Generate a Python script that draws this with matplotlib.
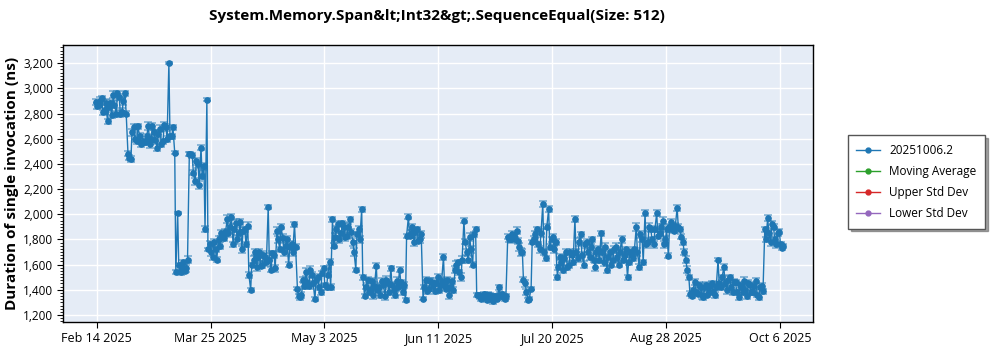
import matplotlib
matplotlib.use("Agg")
import matplotlib.pyplot as plt
from matplotlib.ticker import FuncFormatter, MultipleLocator, AutoMinorLocator
from matplotlib.lines import Line2D
import pandas as pd

plt.rcParams['font.family'] = ['Open Sans', 'DejaVu Sans']

title = "System.Memory.Span&lt;Int32&gt;.SequenceEqual(Size: 512)"
ylabel = "Duration of single invocation (ns)"
series_name = "20251006.2"
legend_labels = [series_name, "Moving Average", "Upper Std Dev", "Lower Std Dev"]
legend_colors = ["#1f77b4", "#2ca02c", "#d62728", "#9467bd"]

first_day = "2025-02-13 18:00"
second_run_offset = "9h"

# mean duration of the first run of each day (ns)
first_run = [
    2890, 2870, 2920, 2830, 2740, 2880, 2950, 2800, 2930, 2810, 2960,
    2480, 2440, 2690, 2580, 2620, 2570,
    2575, 2700, 2600, 2650, 2530, 2680, 2580, 2690, 3200, 2620,
    2490, 2010, 1540, 1620, 1570,
    2480, 2470, 2260, 2400, 2530, 2380, 2910,
    1760, 1660, 1720, 1800, 1850, 1810,
    1960, 1900, 1760, 1930, 1850, 1720, 1880, 1910,
    1400, 1640, 1580, 1700, 1600, 1660,
    2060, 1560, 1680, 1870, 1720, 1810,
    1750, 1600, 1760, 1920, 1410,
    1340, 1480, 1540, 1430, 1520, 1325, 1500, 1380, 1570,
    1420, 1620, 1960, 1820, 1920, 1850, 1900,
    1830, 1960, 1780, 1560, 1880, 2040,
    1350, 1480, 1400, 1360, 1590, 1420, 1470, 1350, 1450, 1570, 1400, 1470, 1560, 1380, 1320,
    1980, 1850, 1780, 1880, 1800,
    1330, 1480, 1410, 1460, 1390, 1500, 1440, 1660, 1410, 1360, 1470,
    1560, 1620, 1500, 1950, 1700, 1820, 1600, 1880, 1360,
    1330, 1370, 1320, 1360, 1310, 1350, 1420, 1370, 1330,
    1820, 1800, 1830, 1870, 1740, 1700, 1450, 1320,
    1410, 1800, 1880, 1720, 2080, 1650, 2040, 1800, 1720,
    1500, 1660, 1560, 1700, 1600, 1680, 1960, 1650, 1840, 1600, 1780,
    1660, 1800, 1580, 1720, 1850, 1620, 1560, 1700, 1640, 1740, 1600, 1800, 1680, 1500,
    1700, 1650, 1900, 1580, 1800, 2010, 1780, 1880,
    1760, 2010, 1850, 1950, 1800, 1670, 1940, 1870, 2050,
    1880, 1780, 1640, 1500, 1350, 1460, 1370, 1420, 1340, 1440, 1380,
    1450, 1360, 1640, 1420, 1580, 1400, 1500, 1380,
    1460, 1340, 1420, 1470, 1350, 1440, 1380, 1470, 1340, 1430,
    1880, 1970, 1780, 1900, 1760, 1860, 1730,
]

# mean duration of the second run of each day (ns)
second_run = [
    2860, 2900, 2810, 2880, 2850, 2790, 2870, 2960, 2800, 2900, 2800,
    2450, 2650, 2600, 2700, 2560, 2575,
    2620, 2560, 2700, 2590, 2640, 2560, 2710, 2600, 2620, 2690,
    1540, 1600, 1580, 1550, 1640,
    2480, 2330, 2420, 2230, 2300, 1880, 1720,
    1700, 1780, 1640, 1750, 1820, 1860,
    1850, 1980, 1880, 1800, 1940, 1870, 1760, 1520,
    1600, 1700, 1660, 1590, 1680, 1620,
    1640, 1690, 1570, 1800, 1900, 1700,
    1800, 1740, 1700, 1740, 1350,
    1360, 1430, 1460, 1560, 1450, 1480, 1420, 1530, 1440,
    1520, 1420, 1750, 1880, 1800, 1930, 1820,
    1900, 1860, 1700, 1840, 1800, 1500,
    1420, 1380, 1470, 1430, 1400, 1360, 1440, 1480, 1380, 1440, 1360, 1420, 1460, 1440, 1830,
    1830, 1900, 1860, 1790, 1840,
    1420, 1390, 1470, 1440, 1450, 1400, 1470, 1430, 1480, 1420, 1400,
    1600, 1540, 1640, 1780, 1640, 1720, 1840, 1360, 1340,
    1350, 1340, 1360, 1330, 1350, 1330, 1360, 1340, 1350,
    1800, 1840, 1800, 1790, 1700, 1480, 1380, 1330,
    1780, 1840, 1760, 1850, 1700, 1900, 1740, 1820, 1780,
    1580, 1620, 1650, 1580, 1700, 1620, 1700, 1780, 1680, 1760, 1700,
    1740, 1640, 1700, 1640, 1700, 1740, 1660, 1600, 1720, 1660, 1700, 1640, 1720, 1620,
    1680, 1720, 1700, 1840, 1620, 1760, 1900, 1800,
    1880, 1830, 1900, 1760, 1880, 1900, 1880, 1910, 1900,
    1820, 1700, 1560, 1370, 1400, 1380, 1440, 1360, 1420, 1360, 1430,
    1380, 1420, 1450, 1500, 1450, 1480, 1420, 1460,
    1380, 1440, 1380, 1400, 1450, 1380, 1430, 1360, 1420, 1390,
    1800, 1850, 1920, 1800, 1850, 1760, 1750,
]

# standard deviation of the runs of each day (ns)
std_devs = [
    25, 30, 20, 35, 20, 25, 30, 20, 25, 30, 20,
    20, 25, 30, 20, 25, 20,
    20, 30, 25, 20, 30, 25, 20, 25, 10, 20,
    15, 10, 25, 20, 30,
    15, 20, 25, 30, 20, 25, 10,
    30, 25, 20, 30, 25, 20,
    30, 25, 20, 35, 25, 30, 20, 25,
    15, 25, 30, 20, 25, 30,
    15, 20, 30, 25, 20, 30,
    25, 20, 30, 20, 15,
    25, 20, 30, 25, 20, 15, 25, 20, 15,
    20, 25, 20, 30, 25, 20, 30,
    25, 20, 30, 15, 25, 20,
    15, 25, 20, 30, 20, 25, 20, 30, 25, 20, 25, 30, 20, 25, 15,
    20, 25, 30, 20, 25,
    15, 25, 20, 30, 20, 25, 20, 25, 20, 30, 25,
    25, 20, 30, 20, 25, 30, 20, 15, 15,
    20, 15, 20, 15, 20, 15, 20, 15, 20,
    20, 25, 20, 25, 30, 20, 25, 15,
    15, 25, 20, 30, 25, 20, 25, 20, 25,
    20, 25, 30, 20, 25, 20, 25, 30, 20, 25, 20,
    25, 20, 30, 25, 20, 30, 25, 20, 25, 30, 20, 25, 20, 20,
    25, 20, 30, 25, 20, 25, 30, 20,
    25, 25, 20, 30, 25, 20, 25, 20, 25,
    20, 25, 30, 20, 15, 25, 20, 30, 25, 20, 25,
    20, 25, 15, 20, 25, 30, 20, 25,
    20, 25, 20, 30, 25, 20, 25, 20, 25, 20,
    20, 25, 30, 20, 25, 20, 15,
]

days = pd.date_range(first_day, periods=len(first_run), freq="D")
runs = pd.concat([
    pd.DataFrame({"time": days, "mean": first_run, "std": std_devs}),
    pd.DataFrame({"time": days + pd.Timedelta(second_run_offset),
                  "mean": second_run, "std": std_devs}),
]).sort_values("time")

fig = plt.figure(figsize=(10, 3.5), dpi=100)
ax = fig.add_axes([0.063, 0.08, 0.75, 0.791])
ax.set_facecolor("#e5ecf6")

ax.errorbar(runs["time"], runs["mean"], yerr=runs["std"], fmt="none",
            ecolor="#1f77b4", elinewidth=1.2, capsize=2.8, capthick=1.2,
            alpha=0.55, zorder=2)
ax.plot(runs["time"], runs["mean"], color="#1f77b4", linewidth=1.0,
        marker="o", markersize=3.8, zorder=3)

ax.set_xlim(pd.Timestamp("2025-02-02 12:00"), pd.Timestamp("2025-10-17 06:00"))
ax.set_ylim(1144, 3343)

tick_dates = pd.date_range("2025-02-14", periods=7, freq="39D")
ax.set_xticks(tick_dates)
ax.set_xticklabels([f"{d.strftime('%b')} {d.day} {d.year}" for d in tick_dates])
ax.yaxis.set_major_locator(MultipleLocator(200))
ax.yaxis.set_minor_locator(AutoMinorLocator(8))
ax.yaxis.set_major_formatter(FuncFormatter(lambda v, p: f"{int(v):,}"))

ax.grid(True, which="major", color="white", linewidth=1.0)
ax.set_axisbelow(True)
ax.tick_params(axis="x", which="major", labelsize=9, length=4, color="black")
ax.tick_params(axis="y", which="major", labelsize=8.5, length=4, color="black", pad=3)
ax.tick_params(axis="y", which="minor", length=2)
for s in ax.spines.values():
    s.set_color("black")
    s.set_linewidth(1.0)

ax.set_ylabel(ylabel, fontsize=11, fontweight="bold")
ax.yaxis.set_label_coords(-0.058, 0.5)
fig.suptitle(title, x=0.437, y=0.975, fontsize=11, fontweight="bold")

handles = [Line2D([0], [0], color=c, marker="o", markersize=3.5, linewidth=1.0)
           for c in legend_colors]
leg = fig.legend(handles, legend_labels, loc="upper left",
                 bbox_to_anchor=(0.842, 0.63), fontsize=8.5, frameon=True,
                 fancybox=False, shadow=True, handlelength=2.0,
                 borderpad=0.7, labelspacing=0.7)
leg.get_frame().set_edgecolor("#555555")
leg.get_frame().set_linewidth(1.0)

fig.savefig("out.png", dpi=100)
